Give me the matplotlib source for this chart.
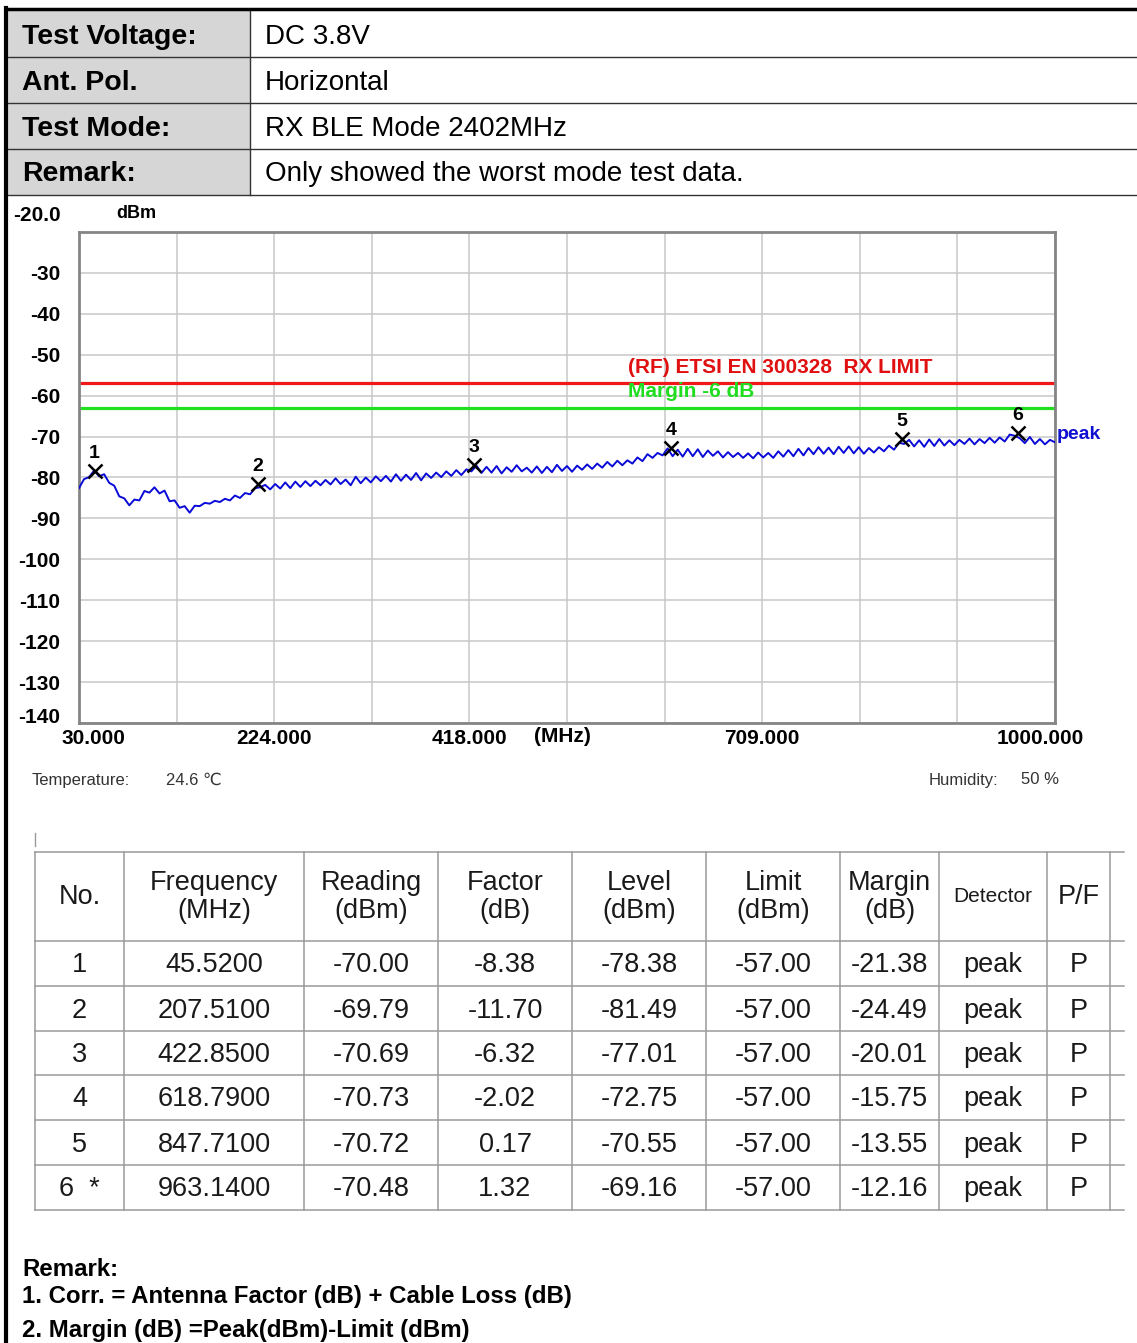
# %% Import packages
import matplotlib.pyplot as plt
import matplotlib.transforms as mtransforms
from matplotlib.patches import Rectangle
import numpy as np

# %% Data
W, H = 1137, 1343

info_labels = ["Test Voltage:", "Ant. Pol.", "Test Mode:", "Remark:"]
info_values = ["DC 3.8V", "Horizontal", "RX BLE Mode 2402MHz",
               "Only showed the worst mode test data."]

# sweep 30-1000 MHz, one reading per 5 MHz
f_start, f_stop, f_step = 30, 1000, 5
trace = [
    -82.6, -80.4, -79.9, -78.3, -79.7, -79.2, -81.3, -82.0, -84.6, -85.1,
    -86.8, -85.4, -85.6, -83.3, -83.7, -82.4, -83.9, -83.2, -85.8, -85.6,
    -87.4, -87.0, -88.6, -86.9, -87.0, -86.2, -86.4, -85.7, -86.0, -85.2,
    -85.6, -84.4, -85.0, -83.8, -84.1, -82.6, -82.4, -81.8, -82.9, -81.6,
    -82.7, -81.2, -82.6, -81.0, -82.3, -80.9, -82.1, -80.8, -81.9, -80.6,
    -81.7, -80.2, -81.6, -80.5, -81.9, -79.8, -81.4, -80.0, -81.2, -79.7,
    -80.9, -79.6, -81.0, -79.2, -80.8, -79.3, -80.6, -78.9, -80.7, -79.0,
    -80.1, -78.8, -79.9, -78.5, -79.6, -78.2, -79.4, -78.0, -78.5, -77.1,
    -78.9, -77.4, -78.8, -77.2, -79.0, -77.5, -78.6, -77.0, -78.5, -77.6,
    -78.8, -77.3, -78.9, -77.4, -78.7, -76.9, -78.4, -77.2, -78.6, -77.1,
    -78.1, -76.8, -77.9, -76.6, -77.6, -76.2, -77.3, -75.9, -77.0, -75.8,
    -76.6, -75.1, -76.0, -74.3, -75.2, -74.0, -74.6, -72.9, -74.8, -73.2,
    -74.9, -73.0, -74.8, -73.1, -75.0, -73.4, -74.7, -73.6, -75.1, -73.8,
    -75.0, -74.0, -75.2, -74.1, -75.3, -73.9, -75.1, -74.0, -75.2, -73.6,
    -74.9, -73.3, -74.8, -73.0, -74.6, -72.8, -74.3, -72.6, -74.2, -72.7,
    -74.3, -72.5, -74.0, -72.4, -74.1, -72.6, -74.2, -72.8, -73.9, -72.6,
    -73.6, -72.2, -73.2, -71.5, -71.8, -70.8, -72.4, -70.9, -72.5, -70.7,
    -72.3, -70.6, -72.2, -70.9, -72.1, -70.8, -71.8, -70.5, -71.9, -70.6,
    -71.6, -70.3, -71.5, -70.2, -71.2, -69.5, -69.8, -70.4, -71.6, -70.1,
    -71.8, -70.6, -71.9, -70.8, -71.4,
]
limit_line = -57.0
margin_line = -63.0

mk_no = ["1", "2", "3", "4", "5", "6  *"]
mk_freq = [45.52, 207.51, 422.85, 618.79, 847.71, 963.14]
mk_read = [-70.00, -69.79, -70.69, -70.73, -70.72, -70.48]
mk_factor = [-8.38, -11.70, -6.32, -2.02, 0.17, 1.32]
mk_level = [-78.38, -81.49, -77.01, -72.75, -70.55, -69.16]
mk_limit = [-57.00] * 6
mk_margin = [-21.38, -24.49, -20.01, -15.75, -13.55, -12.16]
mk_det = ["peak"] * 6
mk_pf = ["P"] * 6

xtick_vals = [30, 127, 224, 321, 418, 515, 612, 709, 806, 903, 1000]
xtick_text = ["30.000", "", "224.000", "", "418.000", "", "", "709.000", "", "", "1000.000"]
ytick_vals = [-20, -30, -40, -50, -60, -70, -80, -90, -100, -110, -120, -130, -140]
ytick_text = ["-20.0", "-30", "-40", "-50", "-60", "-70", "-80", "-90",
              "-100", "-110", "-120", "-130", "-140"]

col_heads = ["No.", "Frequency\n(MHz)", "Reading\n(dBm)", "Factor\n(dB)", "Level\n(dBm)",
             "Limit\n(dBm)", "Margin\n(dB)", "Detector", "P/F"]

# %% Figure
SANS = ["Liberation Sans", "DejaVu Sans"]
plt.rcParams["font.family"] = SANS

fig = plt.figure(figsize=(W / 100, H / 100), dpi=100)

# background axes in pixel coordinates for the page
bg = fig.add_axes([0, 0, 1, 1])
bg.set_xlim(0, W)
bg.set_ylim(H, 0)
bg.axis("off")

# header table
bg.add_patch(Rectangle((8, 9), 242, 186, facecolor="#d6d6d6", edgecolor="none"))
for yy in [57, 103, 149, 195]:
    bg.plot([8, W], [yy, yy], color="#333333", lw=1.0)
bg.plot([250, 250], [9, 195], color="#333333", lw=1.0)
bg.plot([6, W], [9, 9], color="black", lw=2.5)
bg.plot([6, 6], [8, H], color="black", lw=3)
for i, yy in enumerate([37, 83, 129, 174]):
    bg.text(22, yy, info_labels[i], fontsize=20.5, fontweight="bold", va="center")
    bg.text(265, yy, info_values[i], fontsize=20, va="center")

# chart
ax = fig.add_axes([79 / W, 1 - 723 / H, (1055 - 79) / W, (723 - 232) / H])
freqs = np.arange(f_start, f_stop + 1, f_step)
ax.plot(freqs, trace, color="#0a0ad8", lw=1.4, zorder=3)
ax.axhline(limit_line, color="#f01818", lw=2.3, zorder=2)
ax.axhline(margin_line, color="#20e020", lw=2.3, zorder=2)
ax.plot(mk_freq, mk_level, "x", color="black", ms=10, mew=1.8, zorder=4)
for i, (f, lv) in enumerate(zip(mk_freq, mk_level)):
    ax.annotate(str(i + 1), (f, lv), xytext=(0, 6.5), textcoords="offset points",
                ha="center", va="bottom", fontsize=14, fontweight="bold", zorder=5)
ax.text(575.6, -53.0, "(RF) ETSI EN 300328  RX LIMIT", color="#e01010",
        fontsize=15, fontweight="bold", va="center", ha="left")
ax.text(575.6, -59.1, "Margin -6 dB", color="#20dd20",
        fontsize=15, fontweight="bold", va="center", ha="left")
ax.text(1002, -69.6, "peak", color="#1010d0", fontsize=14, fontweight="bold",
        va="center", ha="left", clip_on=False)

ax.set_xlim(30, 1000)
ax.set_ylim(-140, -20)
ax.set_xticks(xtick_vals, xtick_text)
ax.set_yticks(ytick_vals, ytick_text)
ax.grid(True, color="#c8c8c8", lw=1.1)
ax.set_axisbelow(True)
ax.tick_params(length=0, labelsize=15)
ax.tick_params(axis="y", pad=13.5)
ax.tick_params(axis="x", pad=4)
for lab in ax.get_xticklabels() + ax.get_yticklabels():
    lab.set_fontweight("bold")
for sp in ax.spines.values():
    sp.set_color("#858585")
    sp.set_linewidth(2.0)

# nudge the end labels like the analyser printout
ylabs = ax.get_yticklabels()
ylabs[0].set_transform(ylabs[0].get_transform()
                       + mtransforms.ScaledTranslation(0, 0.18, fig.dpi_scale_trans))
ylabs[-1].set_transform(ylabs[-1].get_transform()
                        + mtransforms.ScaledTranslation(0, 0.07, fig.dpi_scale_trans))
xlabs = ax.get_xticklabels()
xlabs[0].set_transform(xlabs[0].get_transform()
                       + mtransforms.ScaledTranslation(0.14, 0, fig.dpi_scale_trans))
xlabs[-1].set_transform(xlabs[-1].get_transform()
                        + mtransforms.ScaledTranslation(-0.15, 0, fig.dpi_scale_trans))

bg.text(136, 213, "dBm", fontsize=13, fontweight="bold", ha="center", va="center")
bg.text(562, 737, "(MHz)", fontsize=15, fontweight="bold", ha="center", va="center")

# temperature / humidity
bg.text(32, 780, "Temperature:", fontsize=12, color="#333333", va="center")
bg.text(166, 780, "24.6 ℃", fontsize=12, color="#333333", va="center")
bg.text(929, 780, "Humidity:", fontsize=12, color="#333333", va="center")
bg.text(1021, 780, "50 %", fontsize=12, color="#333333", va="center")
bg.plot([35, 35], [833, 846], color="#999999", lw=1)

# result table
xs = [35, 124, 304, 438, 572, 706, 840, 939, 1047, 1110]
ys = [852, 941, 986, 1031, 1075, 1120, 1165, 1210]
for yy in ys:
    bg.plot([35, 1124], [yy, yy], color="#9a9a9a", lw=1.1)
for xx in xs:
    bg.plot([xx, xx], [852, 1210], color="#9a9a9a", lw=1.1)
cx = [(xs[i] + xs[i + 1]) / 2 for i in range(len(xs) - 1)]
for i, head in enumerate(col_heads):
    fs = 15 if head == "Detector" else 19.5
    bg.text(cx[i], 897, head, fontsize=fs, ha="center", va="center",
            color="#1a1a1a", linespacing=1.15)
for r in range(6):
    yy = (ys[r + 1] + ys[r + 2]) / 2 + 2
    row = [mk_no[r], f"{mk_freq[r]:.4f}", f"{mk_read[r]:.2f}", f"{mk_factor[r]:.2f}",
           f"{mk_level[r]:.2f}", f"{mk_limit[r]:.2f}", f"{mk_margin[r]:.2f}",
           mk_det[r], mk_pf[r]]
    for c, val in enumerate(row):
        bg.text(cx[c], yy, val, fontsize=19.5, ha="center", va="center", color="#1a1a1a")

# remarks
bg.text(22, 1269, "Remark:", fontsize=17.3, fontweight="bold", va="center")
bg.text(22, 1296, "1. Corr. = Antenna Factor (dB) + Cable Loss (dB)",
        fontsize=17.3, fontweight="bold", va="center")
bg.text(22, 1330, "2. Margin (dB) =Peak(dBm)-Limit (dBm)",
        fontsize=17.3, fontweight="bold", va="center")

fig.savefig("out.png", dpi=100)
